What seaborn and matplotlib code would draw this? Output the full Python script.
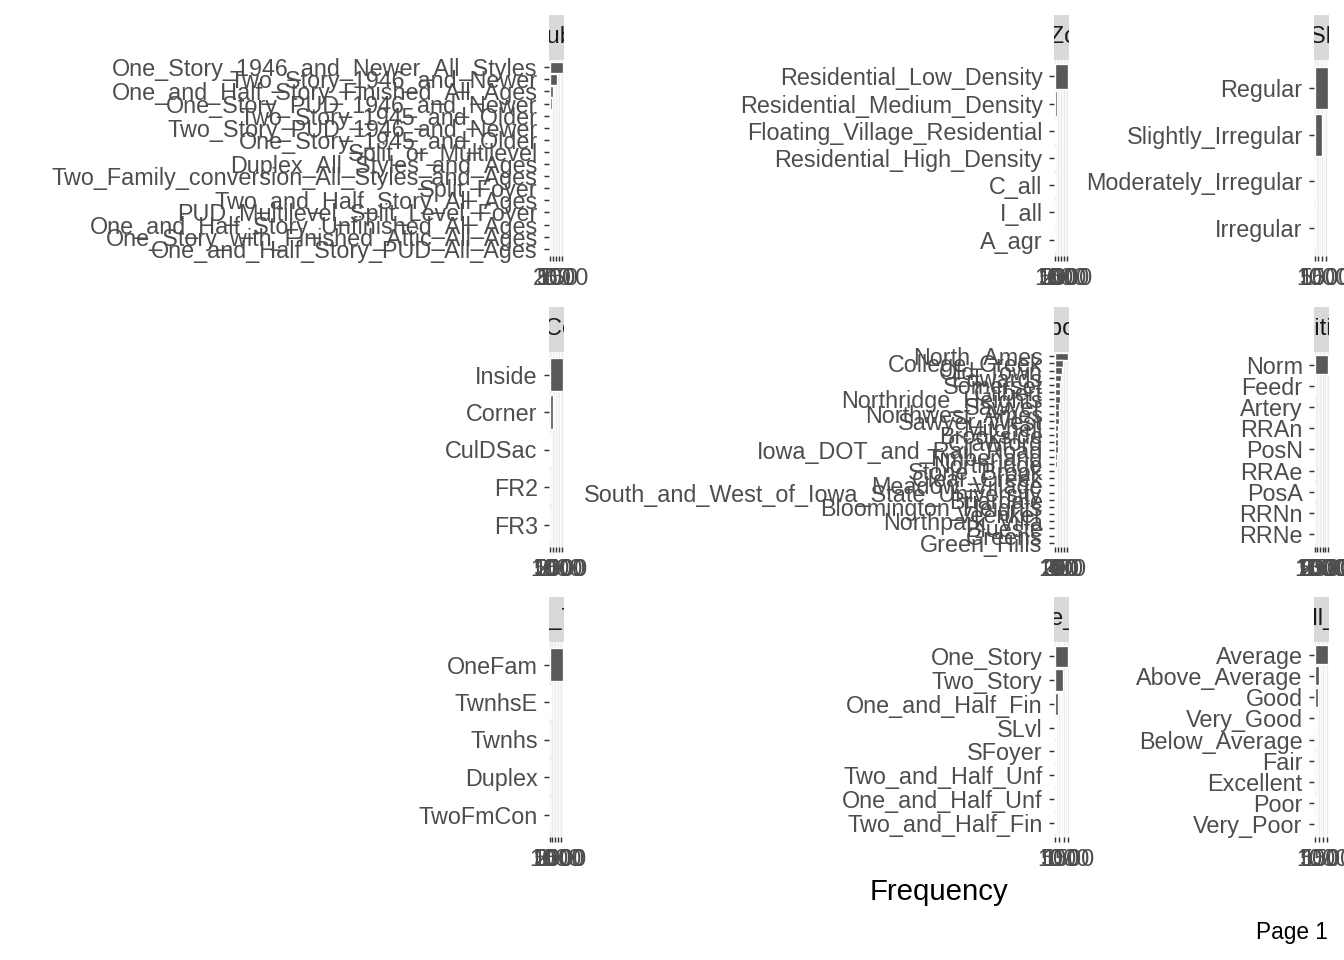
import matplotlib
matplotlib.use("Agg")
import matplotlib.pyplot as plt
import seaborn as sns
import pandas as pd

sns.set_theme(style="white")
plt.rcParams['font.family'] = ['Liberation Sans', 'DejaVu Sans']

# counts per variable (Ames housing), top to bottom as drawn
ms_subclass_lab = ["One_Story_1946_and_Newer_All_Styles", "Two_Story_1946_and_Newer",
                   "One_and_Half_Story_Finished_All_Ages", "One_Story_PUD_1946_and_Newer",
                   "Two_Story_1945_and_Older", "Two_Story_PUD_1946_and_Newer",
                   "One_Story_1945_and_Older", "Split_or_Multilevel",
                   "Duplex_All_Styles_and_Ages", "Two_Family_conversion_All_Styles_and_Ages",
                   "Split_Foyer", "Two_and_Half_Story_All_Ages",
                   "PUD_Multilevel_Split_Level_Foyer", "One_and_Half_Story_Unfinished_All_Ages",
                   "One_Story_with_Finished_Attic_All_Ages", "One_and_Half_Story_PUD_All_Ages"]
ms_subclass_n = [1079, 575, 287, 192, 139, 129, 128, 118, 109, 61, 48, 23, 18, 17, 6, 1]

ms_zoning_lab = ["Residential_Low_Density", "Residential_Medium_Density",
                 "Floating_Village_Residential", "Residential_High_Density",
                 "C_all", "I_all", "A_agr"]
ms_zoning_n = [2273, 462, 139, 27, 25, 2, 2]

lot_shape_lab = ["Regular", "Slightly_Irregular", "Moderately_Irregular", "Irregular"]
lot_shape_n = [1859, 979, 76, 16]

lot_config_lab = ["Inside", "Corner", "CulDSac", "FR2", "FR3"]
lot_config_n = [2140, 511, 180, 85, 14]

neigh_lab = ["North_Ames", "College_Creek", "Old_Town", "Edwards", "Somerset",
             "Gilbert", "Northridge_Heights", "Sawyer", "Northwest_Ames", "Sawyer_West",
             "Mitchell", "Brookside", "Crawford", "Iowa_DOT_and_Rail_Road", "Timberland",
             "Northridge", "Stone_Brook", "Clear_Creek", "Meadow_Village",
             "South_and_West_of_Iowa_State_University", "Briardale", "Bloomington_Heights",
             "Veenker", "Northpark_Villa", "Blueste", "Greens", "Green_Hills"]
neigh_n = [443, 267, 239, 194, 182, 166, 165, 151, 131, 125, 114, 108, 103, 93, 72,
           71, 51, 48, 44, 37, 30, 28, 24, 23, 10, 8, 2]

cond1_lab = ["Norm", "Feedr", "Artery", "RRAn", "PosN", "RRAe", "PosA", "RRNn", "RRNe"]
cond1_n = [2522, 164, 92, 50, 39, 28, 20, 9, 6]

bldg_lab = ["OneFam", "TwnhsE", "Twnhs", "Duplex", "TwoFmCon"]
bldg_n = [2425, 233, 109, 101, 62]

house_lab = ["One_Story", "Two_Story", "One_and_Half_Fin", "SLvl", "SFoyer",
             "Two_and_Half_Unf", "One_and_Half_Unf", "Two_and_Half_Fin"]
house_n = [1481, 873, 314, 128, 83, 24, 19, 8]

overall_lab = ["Average", "Above_Average", "Good", "Very_Good", "Below_Average",
               "Fair", "Excellent", "Poor", "Very_Poor"]
overall_n = [1654, 533, 390, 144, 101, 50, 41, 10, 7]

panels = [
    ("MS_SubClass", ms_subclass_lab, ms_subclass_n, [0, 250, 500, 750, 1000]),
    ("MS_Zoning", ms_zoning_lab, ms_zoning_n, [0, 500, 1000, 1500, 2000]),
    ("Lot_Shape", lot_shape_lab, lot_shape_n, [0, 500, 1000, 1500]),
    ("Lot_Config", lot_config_lab, lot_config_n, [0, 500, 1000, 1500, 2000]),
    ("Neighborhood", neigh_lab, neigh_n, [0, 100, 200, 300, 400]),
    ("Condition_1", cond1_lab, cond1_n, [0, 500, 1000, 1500, 2000, 2500]),
    ("Bldg_Type", bldg_lab, bldg_n, [0, 500, 1000, 1500, 2000]),
    ("House_Style", house_lab, house_n, [0, 500, 1000, 1500]),
    ("Overall_Cond", overall_lab, overall_n, [0, 500, 1000, 1500]),
]

W, H = 1344, 960
col_left = [549, 1054, 1314]
panel_w = 15
row_top = [60, 352, 642]
row_bot = [256, 547, 837]
strip_h = 45

fig = plt.figure(figsize=(14, 10), dpi=96)

for i, (name, labs, vals, brks) in enumerate(panels):
    r, c = divmod(i, 3)
    x0 = col_left[c] / W
    y0 = 1 - row_bot[r] / H
    h = (row_bot[r] - row_top[r]) / H
    ax = fig.add_axes([x0, y0, panel_w / W, h])
    df = pd.DataFrame({"var": labs, "n": vals})
    sns.barplot(data=df, x="n", y="var", orient="h", color="#595959",
                saturation=1, width=0.9, ax=ax)
    mx = max(vals)
    ax.set_xlim(-0.05 * mx, 1.05 * mx)
    ax.set_ylim(len(labs) - 1 + 0.6, -0.6)
    ax.set_xticks(brks)
    ax.set_xticks([(a + b) / 2 for a, b in zip(brks[:-1], brks[1:])], minor=True)
    ax.set_xticklabels([str(b) for b in brks])
    ax.grid(axis="x", which="major", color="#EBEBEB", lw=1.0)
    ax.grid(axis="x", which="minor", color="#F4F4F4", lw=0.6)
    ax.set_axisbelow(True)
    ax.set_facecolor("white")
    for s in ax.spines.values():
        s.set_visible(False)
    ax.set_xlabel("")
    ax.set_ylabel("")
    ax.tick_params(axis="both", which="major", length=4, width=1.1, color="#333333",
                   labelsize=17.5, labelcolor="#4D4D4D")
    ax.tick_params(axis="y", pad=4.5)
    ax.tick_params(axis="x", pad=4)
    ax.tick_params(axis="x", which="minor", length=0)
    ax.tick_params(axis="x", bottom=True)
    ax.tick_params(axis="y", left=True)

    # strip with clipped title
    sax = fig.add_axes([x0, 1 - (row_top[r]) / H, panel_w / W, strip_h / H])
    sax.set_facecolor("#D9D9D9")
    sax.set_xticks([])
    sax.set_yticks([])
    for s in sax.spines.values():
        s.set_visible(False)
    sax.text(0.5, 0.5, name, ha="center", va="center", fontsize=18,
             color="#1A1A1A", transform=sax.transAxes, clip_on=True)

fig.text(939 / W, 1 - 892 / H, "Frequency", ha="center", va="center",
         fontsize=22, color="black")
fig.text(1328 / W, 1 - 932 / H, "Page 1", ha="right", va="center",
         fontsize=17, color="black")

fig.savefig("out.png", dpi=96, facecolor="white")
